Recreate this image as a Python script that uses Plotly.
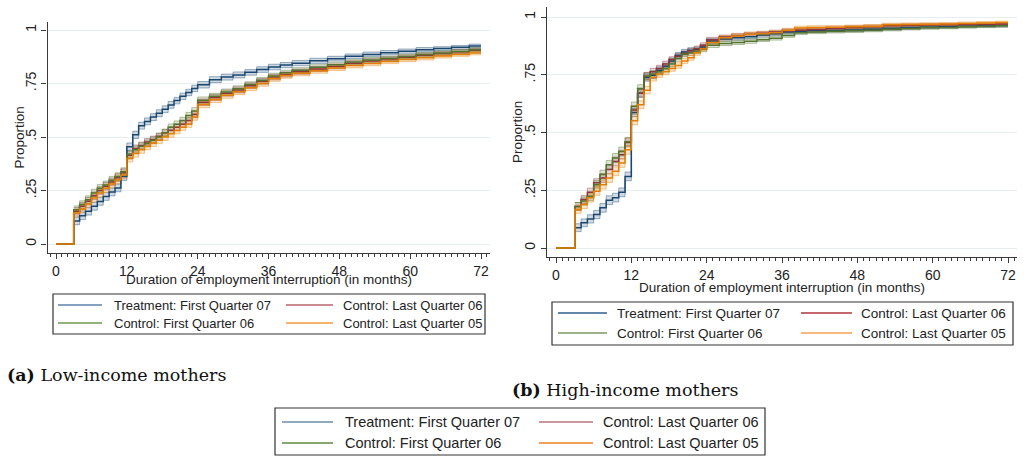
import plotly.graph_objects as go

# ---------------- data ----------------
MONTHS = [0, 3, 4, 5, 6, 7, 8, 9, 10, 11, 12, 13, 14, 15, 16, 17, 18, 19, 20, 21, 22, 23, 24,
          26, 28, 30, 32, 34, 36, 38, 40, 43, 46, 49, 52, 55, 58, 61, 64, 67, 70]
END_MONTH = 72

SERIES_NAMES = ["Treatment: First Quarter 07", "Control: Last Quarter 06",
                "Control: First Quarter 06", "Control: Last Quarter 05"]

# Panel (a) low-income mothers
LOW_TREAT_Q1_07 = [0, .108, .132, .153, .176, .199, .222, .243, .262, .315, .455, .51, .553, .573, .593, .611,
                   .63, .65, .67, .69, .708, .727, .744, .768, .78, .79, .802, .815, .827, .836, .845, .856,
                   .866, .877, .886, .894, .901, .908, .913, .919, .925]
LOW_CTRL_Q4_06 = [0, .153, .176, .20, .225, .25, .27, .29, .31, .333, .415, .446, .46, .477, .488, .503,
                  .52, .532, .546, .56, .577, .605, .662, .685, .705, .72, .74, .76, .78, .792, .805, .818,
                  .83, .845, .855, .865, .873, .882, .89, .898, .905]
LOW_CTRL_Q1_06 = [0, .16, .184, .207, .238, .26, .276, .298, .315, .338, .42, .44, .457, .47, .485, .50,
                  .52, .545, .56, .577, .60, .622, .672, .69, .71, .725, .745, .765, .785, .80, .812, .826,
                  .838, .85, .86, .868, .876, .885, .893, .90, .908]
LOW_CTRL_Q4_05 = [0, .145, .164, .187, .215, .238, .26, .28, .30, .323, .40, .423, .44, .457, .472, .485,
                  .50, .515, .53, .546, .56, .593, .652, .675, .695, .712, .73, .75, .773, .787, .798, .81,
                  .822, .834, .844, .853, .862, .87, .878, .886, .893]
LOW_CI_HALFWIDTH = [0, .018, .018, .018, .018, .018, .018, .018, .018, .018, .017, .017, .016, .016, .016, .016,
                    .016, .016, .015, .015, .015, .015, .015, .014, .014, .014, .013, .013, .013, .012, .012, .012,
                    .011, .011, .011, .010, .010, .010, .009, .009, .009]

# Panel (b) high-income mothers
HIGH_TREAT_Q1_07 = [0, .088, .109, .126, .145, .174, .207, .218, .241, .31, .587, .67, .738, .748, .77, .787,
                    .81, .834, .849, .856, .859, .87, .896, .905, .91, .915, .922, .928, .935, .938, .94, .942,
                    .944, .947, .95, .953, .956, .958, .96, .962, .963]
HIGH_CTRL_Q4_06 = [0, .18, .21, .241, .282, .303, .34, .375, .404, .457, .597, .67, .744, .763, .777, .796,
                   .816, .83, .842, .853, .863, .878, .902, .913, .92, .925, .93, .935, .94, .943, .946, .95,
                   .955, .958, .962, .964, .965, .966, .967, .968, .97]
HIGH_CTRL_Q1_06 = [0, .18, .203, .224, .274, .318, .36, .39, .418, .46, .614, .69, .744, .753, .763, .777,
                   .796, .82, .839, .845, .853, .86, .878, .885, .89, .895, .902, .908, .92, .932, .935, .938,
                   .94, .943, .947, .95, .953, .955, .958, .96, .962]
HIGH_CTRL_Q4_05 = [0, .167, .188, .217, .246, .274, .303, .332, .368, .425, .551, .62, .683, .738, .753, .763,
                   .777, .79, .81, .824, .845, .863, .89, .91, .918, .925, .928, .932, .943, .952, .955, .956,
                   .958, .96, .966, .968, .969, .97, .972, .974, .976]
HIGH_CI_HALFWIDTH = [0, .017, .017, .018, .018, .019, .019, .019, .019, .019, .018, .017, .016, .015, .014, .013,
                     .012, .012, .011, .011, .011, .010, .010, .009, .009, .009, .008, .008, .008, .008, .007, .007,
                     .007, .007, .007, .006, .006, .006, .006, .006, .006]

X_TICKS = [0, 12, 24, 36, 48, 60, 72]
Y_TICKS = [0, .25, .5, .75, 1]
Y_TICK_TEXT = ["0", ".25", ".5", ".75", "1"]

X_TITLE = "Duration of employment interruption (in months)"
Y_TITLE = "Proportion"
CAPTIONS = ["<b>(a)</b> Low-income mothers", "<b>(b)</b> High-income mothers"]

COLORS = ["#1a476f", "#90353b", "#55752f", "#e37e00"]
RGB = [(26, 71, 111), (144, 53, 59), (85, 117, 47), (227, 126, 0)]
LEGEND_COLORS_A = ["#5d84ab", "#b8666d", "#6f9a4c", "#f29a3a"]
LEGEND_COLORS_B = ["#2f5f8c", "#b0363d", "#7a9a5e", "#f5a050"]
LEGEND_COLORS_C = ["#6d8cab", "#b8777c", "#5e8a3e", "#f07f20"]

W, H = 1030, 457
FONT = "Liberation Sans, Arial, sans-serif"
SERIF = "DejaVu Serif, serif"


def px(x):
    return x / W


def py(y):
    return 1 - y / H


panels = [
    dict(series=[LOW_TREAT_Q1_07, LOW_CTRL_Q4_06, LOW_CTRL_Q1_06, LOW_CTRL_Q4_05], hw=LOW_CI_HALFWIDTH,
         xa="x", ya="y"),
    dict(series=[HIGH_TREAT_Q1_07, HIGH_CTRL_Q4_06, HIGH_CTRL_Q1_06, HIGH_CTRL_Q4_05], hw=HIGH_CI_HALFWIDTH,
         xa="x2", ya="y2"),
]

fig = go.Figure()
xs = MONTHS + [END_MONTH]
for p in panels:
    # confidence bands first
    for i, vals in enumerate(p["series"]):
        r, g, b = RGB[i]
        lo = [max(v - h, 0) for v, h in zip(vals, p["hw"])]
        hi = [v + h for v, h in zip(vals, p["hw"])]
        lo = lo + [lo[-1]]
        hi = hi + [hi[-1]]
        fig.add_trace(go.Scatter(x=xs[1:], y=lo[1:], mode="lines", line=dict(shape="hv", width=1,
                                 color=f"rgba({r},{g},{b},0.42)"), xaxis=p["xa"], yaxis=p["ya"],
                                 showlegend=False, hoverinfo="skip"))
        fig.add_trace(go.Scatter(x=xs[1:], y=hi[1:], mode="lines", line=dict(shape="hv", width=1,
                                 color=f"rgba({r},{g},{b},0.42)"), fill="tonexty",
                                 fillcolor=f"rgba({r},{g},{b},0.2)", xaxis=p["xa"], yaxis=p["ya"],
                                 showlegend=False, hoverinfo="skip"))
    for i, vals in enumerate(p["series"]):
        ys = vals + [vals[-1]]
        fig.add_trace(go.Scatter(x=xs, y=ys, mode="lines", name=SERIES_NAMES[i],
                                 line=dict(shape="hv", width=1.5, color=COLORS[i]),
                                 xaxis=p["xa"], yaxis=p["ya"], showlegend=False))

axis_common = dict(showline=True, linecolor="#3a3a3a", linewidth=1.2, ticks="outside", ticklen=5,
                   tickcolor="#3a3a3a", tickfont=dict(family=FONT, size=14, color="#222"), zeroline=False)

# panel geometry in pixels: (left, right, top, bottom, x0px, x72px, y0px, y1px)
geo = [(47.5, 490, 22, 253, 56, 481, 244, 30), (547, 1017, 7, 257, 556, 1008, 248, 17)]
layout_axes = {}
for k, (l, r, t, b, x0, x72, y0, y1) in enumerate(geo):
    sx = (x72 - x0) / 72.0
    sy = (y0 - y1) / 1.0
    xr = [-(x0 - l) / sx, 72 + (r - x72) / sx]
    yr = [-(b - y0) / sy, 1 + (y1 - t) / sy]
    sfx = "" if k == 0 else "2"
    layout_axes["xaxis" + sfx] = dict(axis_common, domain=[px(l), px(r)], range=xr, tickvals=X_TICKS,
                                      showgrid=False, anchor="y" + sfx,
                                      minor=dict(dtick=1, tick0=0, ticks="outside", ticklen=2.5,
                                                 tickcolor="#3a3a3a", showgrid=False))
    layout_axes["yaxis" + sfx] = dict(axis_common, domain=[py(b), py(t)], range=yr, tickvals=Y_TICKS,
                                      ticktext=Y_TICK_TEXT, tickangle=-90, showgrid=True,
                                      gridcolor="#e6eef0", gridwidth=1, anchor="x" + sfx)

annotations = []
shapes = []
# axis titles
for (l, r, t, b, *_), ty, yt_x in [(geo[0], 279, 19), (geo[1], 287, 517)]:
    annotations.append(dict(text=X_TITLE, x=px((l + r) / 2), y=py(ty), xref="paper", yref="paper",
                            xanchor="center", yanchor="middle", showarrow=False,
                            font=dict(family=FONT, size=13.5, color="#222")))
    annotations.append(dict(text=Y_TITLE, x=px(yt_x), y=py((t + b) / 2), xref="paper", yref="paper",
                            xanchor="center", yanchor="middle", showarrow=False, textangle=-90,
                            font=dict(family=FONT, size=13.5, color="#222")))

# captions
annotations.append(dict(text=CAPTIONS[0], x=px(5), y=py(375), xref="paper", yref="paper", xanchor="left",
                        yanchor="middle", showarrow=False, font=dict(family=SERIF, size=17.5, color="#111")))
annotations.append(dict(text=CAPTIONS[1], x=px(510), y=py(390), xref="paper", yref="paper", xanchor="left",
                        yanchor="middle", showarrow=False, font=dict(family=SERIF, size=17.5, color="#111")))

# legends: box, rows, columns
legends = [
    dict(box=(53, 485, 294, 334), rows=(305, 323), cols=((58, 102, 112), (286, 333, 341)), size=13,
         colors=LEGEND_COLORS_A),
    dict(box=(552, 1013, 302, 345), rows=(313, 333), cols=((558, 607, 615), (801, 852, 859)), size=13.5,
         colors=LEGEND_COLORS_B),
    dict(box=(275, 765, 408, 455), rows=(422, 443), cols=((282, 333, 343), (539, 593, 601)), size=14.5,
         colors=LEGEND_COLORS_C),
]
order = [0, 1, 2, 3]
for lg in legends:
    bl, br, bt, bb = lg["box"]
    shapes.append(dict(type="rect", xref="paper", yref="paper", x0=px(bl), x1=px(br), y0=py(bb), y1=py(bt),
                       line=dict(color="#333", width=1.2), fillcolor="white", layer="below"))
    for idx in order:
        row = idx // 2
        col = idx % 2
        l0, l1, tx = lg["cols"][col]
        yy = lg["rows"][row]
        shapes.append(dict(type="line", xref="paper", yref="paper", x0=px(l0), x1=px(l1), y0=py(yy), y1=py(yy),
                           line=dict(color=lg["colors"][idx], width=1.5)))
        annotations.append(dict(text=SERIES_NAMES[idx], x=px(tx), y=py(yy), xref="paper", yref="paper",
                                xanchor="left", yanchor="middle", showarrow=False,
                                font=dict(family=FONT, size=lg["size"], color="#222")))

fig.update_layout(width=W, height=H, margin=dict(l=0, r=0, t=0, b=0), paper_bgcolor="white",
                  plot_bgcolor="white", showlegend=False, annotations=annotations, shapes=shapes,
                  **layout_axes)

fig.write_html("out.html")
